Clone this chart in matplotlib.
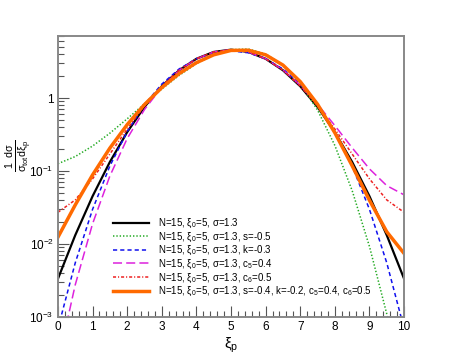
import numpy as np
import matplotlib
matplotlib.use("Agg")
import matplotlib.pyplot as plt
from matplotlib.ticker import LogLocator, NullFormatter, FixedLocator, MultipleLocator, FuncFormatter

plt.rcParams['font.family'] = ['Liberation Sans', 'DejaVu Sans']
plt.rcParams['mathtext.fontset'] = 'custom'
plt.rcParams['mathtext.rm'] = 'Liberation Sans'
plt.rcParams['mathtext.it'] = 'Liberation Sans'
plt.rcParams['mathtext.default'] = 'regular'
plt.rcParams['lines.scale_dashes'] = False

# xi_p sample points and curves
xi = [0.0, 0.5, 1.0, 1.5, 2.0, 2.5, 3.0, 3.5, 4.0, 4.5, 5.0,
      5.5, 6.0, 6.5, 7.0, 7.5, 8.0, 8.5, 9.0, 9.5, 10.0]
gauss = [0.00334, 0.0132, 0.0451, 0.133, 0.341, 0.755, 1.45, 2.40, 3.45, 4.28, 4.60,
         4.28, 3.45, 2.40, 1.45, 0.755, 0.341, 0.133, 0.0451, 0.0132, 0.00334]
skew = [0.126, 0.158, 0.220, 0.330, 0.519, 0.833, 1.33, 2.04, 2.96, 3.91, 4.60,
        4.69, 4.02, 2.82, 1.58, 0.685, 0.224, 0.0539, 0.00924, 0.00110, 8.85e-5]
kurt = [0.000698, 0.00551, 0.0298, 0.117, 0.346, 0.810, 1.55, 2.50, 3.45, 4.17, 4.43,
        4.17, 3.45, 2.50, 1.55, 0.810, 0.346, 0.117, 0.0298, 0.00551, 0.000698]
c5 = [0.000236, 0.00276, 0.0189, 0.0854, 0.278, 0.695, 1.41, 2.39, 3.44, 4.28, 4.60,
      4.28, 3.45, 2.42, 1.49, 0.821, 0.419, 0.208, 0.107, 0.063, 0.0472]
c6 = [0.0272, 0.0402, 0.0781, 0.171, 0.376, 0.781, 1.46, 2.41, 3.45, 4.28, 4.60,
      4.28, 3.45, 2.41, 1.46, 0.781, 0.376, 0.171, 0.0781, 0.0402, 0.0272]
full = [0.0124, 0.0343, 0.0884, 0.206, 0.432, 0.814, 1.39, 2.16, 3.05, 3.91, 4.49,
        4.52, 3.91, 2.83, 1.68, 0.822, 0.334, 0.118, 0.0397, 0.0147, 0.00743]

labels = [
    r'N=15, $\xi_0$=5, $\sigma$=1.3',
    r'N=15, $\xi_0$=5, $\sigma$=1.3, s=-0.5',
    r'N=15, $\xi_0$=5, $\sigma$=1.3, k=-0.3',
    r'N=15, $\xi_0$=5, $\sigma$=1.3, $c_5$=0.4',
    r'N=15, $\xi_0$=5, $\sigma$=1.3, $c_6$=0.5',
    r'N=15, $\xi_0$=5, $\sigma$=1.3, s=-0.4, k=-0.2, $c_5$=0.4, $c_6$=0.5',
]

fig = plt.figure(figsize=(4.49, 3.64), dpi=100)
ax = fig.add_axes([0.129, 0.129, 0.771, 0.772])

ax.plot(xi, gauss, color='black', lw=1.6, label=labels[0])
ax.plot(xi, skew, color='#22aa22', lw=1.1, ls=(0, (1.0, 1.4)), label=labels[1])
ax.plot(xi, kurt, color='#1010ee', lw=1.1, ls=(0, (3.0, 2.2)), label=labels[2])
ax.plot(xi, c5, color='#dd22dd', lw=1.1, ls=(0, (6.5, 3.0)), label=labels[3])
ax.plot(xi, c6, color='#ee2020', lw=1.1, ls=(0, (2.2, 1.4, 0.8, 1.4)), label=labels[4])
ax.plot(xi, full, color='#ff6a00', lw=2.5, label=labels[5])

ax.set_yscale('log')
ax.set_xlim(0, 10)
ax.set_ylim(1e-3, 7.07)

ax.xaxis.set_major_locator(MultipleLocator(1))
ax.xaxis.set_minor_locator(MultipleLocator(0.2))
ax.yaxis.set_major_locator(FixedLocator([1e-3, 1e-2, 1e-1, 1]))
ax.yaxis.set_minor_locator(LogLocator(base=10, subs=np.arange(2, 10)))
ax.yaxis.set_minor_formatter(NullFormatter())

def yfmt(v, pos):
    e = int(round(np.log10(v)))
    return '1' if e == 0 else r'$10^{%d}$' % e
ax.yaxis.set_major_formatter(FuncFormatter(yfmt))

for sp in ax.spines.values():
    sp.set_color('#888888')
    sp.set_linewidth(1.4)
ax.tick_params(which='both', direction='in', top=False, right=False,
               color='#555555', labelsize=8.5, width=0.8)
ax.tick_params(which='major', length=8, pad=3)
ax.tick_params(which='minor', length=4.5)

fig.text(19 / 449, 1 - 156 / 364, r'$\frac{1\ \ d\sigma}{\sigma_{tot} d\xi_{p}}$',
         rotation=90, ha='center', va='center', fontsize=11)
fig.text(231 / 449, 1 - 345 / 364, r'$\xi_{p}$', ha='center', va='center', fontsize=11)

ax.legend(loc='upper left', bbox_to_anchor=(0.159, 0.356), frameon=False,
          fontsize=7.0, handlelength=3.7, handletextpad=0.9, labelspacing=0.05,
          borderpad=0, borderaxespad=0)

fig.savefig('out.png', dpi=100)
